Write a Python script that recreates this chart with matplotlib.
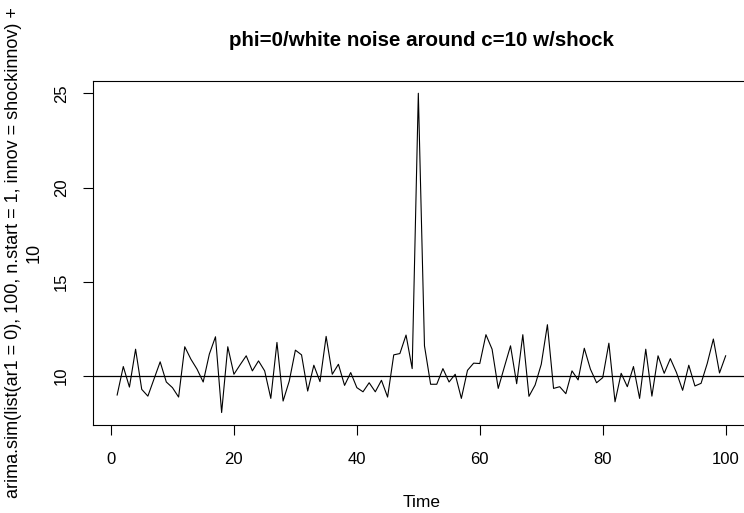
import numpy as np
import matplotlib
matplotlib.use("Agg")
import matplotlib.pyplot as plt

# series (time 1..100)
time = np.arange(1, 101)
values = [
    8.99, 10.50, 9.41, 11.42, 9.29, 8.93, 9.84, 10.75, 9.68, 9.38,
    8.88, 11.55, 10.89, 10.36, 9.68, 11.16, 12.08, 8.06, 11.55, 10.09,
    10.59, 11.07, 10.27, 10.80, 10.27, 8.81, 11.78, 8.67, 9.73, 11.37,
    11.12, 9.20, 10.57, 9.70, 12.10, 10.09, 10.62, 9.50, 10.18, 9.38,
    9.16, 9.64, 9.16, 9.77, 8.88, 11.12, 11.19, 12.17, 10.39, 25.00,
    11.60, 9.56, 9.56, 10.39, 9.68, 10.09, 8.81, 10.30, 10.68, 10.66,
    12.19, 11.42, 9.34, 10.48, 11.60, 9.59, 12.19, 8.92, 9.52, 10.62,
    12.72, 9.34, 9.43, 9.06, 10.27, 9.79, 11.47, 10.36, 9.64, 9.91,
    11.74, 8.63, 10.14, 9.43, 10.50, 8.81, 11.42, 8.93, 11.07, 10.14,
    10.92, 10.18, 9.24, 10.57, 9.47, 9.61, 10.66, 11.96, 10.16, 11.07,
]
mean_level = 10
x_ticks = [0, 20, 40, 60, 80, 100]
y_ticks = [10, 15, 20, 25]

title = "phi=0/white noise around c=10 w/shock"
ylab = "arima.sim(list(ar1 = 0), 100, n.start = 1, innov = shockinnov) +\n10"

plt.rcParams["font.family"] = ["Liberation Sans", "DejaVu Sans"]

fig = plt.figure(figsize=(7.44, 5.13), dpi=100)
# plot region runs past the right edge, like the cropped original
ax = fig.add_axes([92.8 / 744, (513 - 425.3) / 513,
                   (750 - 92.8) / 744, (425.3 - 80.5) / 513])

ax.plot(time, values, color="black", linewidth=0.8)
ax.margins(x=0.04, y=0.04)
ax.axhline(mean_level, color="black", linewidth=0.9)

ax.set_xticks(x_ticks)
ax.set_yticks(y_ticks)
ax.tick_params(direction="out", length=7.2, width=0.8, labelsize=12,
               color="black")
ax.tick_params(axis="x", pad=12)
ax.tick_params(axis="y", pad=10)
plt.setp(ax.get_yticklabels(), rotation=90, va="center")
for s in ax.spines.values():
    s.set_linewidth(0.8)

ax.set_xlabel("Time", fontsize=12.5, labelpad=20.5)
ax.set_ylabel(ylab, fontsize=13, labelpad=8, linespacing=1.28)
ax.set_title(title, fontsize=14.8, fontweight="bold", pad=25)

fig.savefig("out.png", dpi=100)
